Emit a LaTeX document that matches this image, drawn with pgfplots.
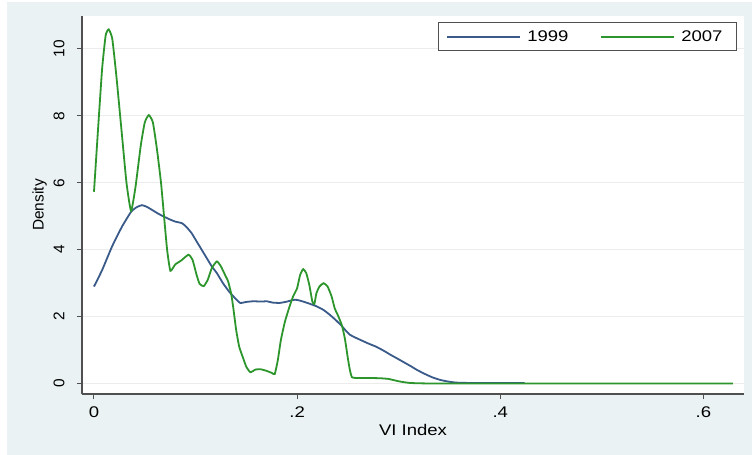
\documentclass[border=0pt]{standalone}
\usepackage{fontspec}
\setmainfont{Liberation Sans}[FakeStretch=1.2]
\newfontfamily\rotfont{Liberation Sans}
\usepackage{pgfplots}
\pgfplotsset{compat=1.18}
\usetikzlibrary{backgrounds,calc}
\definecolor{bgblue}{HTML}{EAF2F3}
\definecolor{c99}{HTML}{3A5A8A}
\definecolor{c07}{HTML}{2C962C}
\definecolor{axgray}{HTML}{505050}
\definecolor{gridgray}{HTML}{ECECEC}
\pgfplotstableread{
x y
0.000 2.9
0.008 3.39
0.0177 4.09
0.0276 4.69
0.0365 5.13
0.042 5.27
0.0473 5.33
0.052 5.28
0.0571 5.19
0.063 5.08
0.0687 4.99
0.075 4.9
0.080 4.84
0.0867 4.79
0.091 4.68
0.096 4.5
0.100 4.3
0.104 4.1
0.110 3.8
0.116 3.5
0.121 3.3
0.127 3.0
0.133 2.75
0.139 2.55
0.144 2.41
0.150 2.44
0.157 2.46
0.165 2.45
0.170 2.46
0.176 2.42
0.183 2.41
0.190 2.45
0.196 2.50
0.200 2.50
0.206 2.45
0.212 2.39
0.219 2.31
0.226 2.2
0.232 2.06
0.238 1.9
0.244 1.72
0.248 1.58
0.252 1.46
0.257 1.38
0.262 1.31
0.270 1.2
0.278 1.1
0.286 0.97
0.292 0.86
0.298 0.76
0.305 0.64
0.312 0.52
0.318 0.41
0.325 0.3
0.333 0.19
0.341 0.11
0.349 0.06
0.357 0.03
0.370 0.02
0.390 0.02
0.410 0.02
0.424 0.02
}\dataA
\pgfplotstableread{
x y
0.000 5.73
0.004 7.6
0.008 9.4
0.0115 10.4
0.0145 10.58
0.018 10.3
0.022 9.2
0.027 7.6
0.032 6.0
0.0365 5.16
0.041 5.9
0.046 7.1
0.050 7.8
0.054 8.02
0.058 7.8
0.062 7.0
0.066 6.0
0.069 4.99
0.072 4.0
0.0752 3.37
0.080 3.56
0.086 3.68
0.093 3.85
0.097 3.7
0.101 3.25
0.104 2.98
0.108 2.91
0.112 3.1
0.116 3.45
0.121 3.65
0.125 3.5
0.129 3.25
0.132 3.06
0.135 2.7
0.137 2.3
0.140 1.6
0.143 1.1
0.147 0.75
0.150 0.5
0.154 0.34
0.159 0.42
0.164 0.43
0.170 0.38
0.175 0.32
0.178 0.29
0.181 0.7
0.184 1.3
0.188 1.85
0.192 2.25
0.196 2.6
0.200 2.85
0.203 3.25
0.206 3.42
0.209 3.3
0.212 2.95
0.215 2.45
0.217 2.38
0.219 2.7
0.222 2.9
0.226 3.0
0.230 2.9
0.234 2.6
0.237 2.25
0.240 2.05
0.244 1.75
0.247 1.35
0.250 0.75
0.252 0.4
0.254 0.19
0.258 0.17
0.270 0.17
0.282 0.16
0.290 0.14
0.300 0.07
0.311 0.02
0.330 0.005
0.400 0.003
0.629 0.003
}\dataB
\begin{document}
\begin{tikzpicture}
\begin{axis}[
  scale only axis, width=662bp, height=378bp,
  xmin=-0.0118, xmax=0.640, ymin=-0.31, ymax=10.98,
  axis x line*=bottom, axis y line*=left,
  axis line style={axgray, line width=1.3bp, -},
  xtick={0,0.2,0.4,0.6}, xticklabels={0,.2,.4,.6},
  ytick={0,2,4,6,8,10}, yticklabels={0,2,4,6,8,10},
  tick align=outside, major tick length=5bp,
  tick style={axgray, line width=1bp},
  ymajorgrids, grid style={gridgray, line width=1.2bp},
  axis background/.style={fill=white},
  /pgf/number format/assume math mode=true,
  xticklabel style={font=\fontsize{15.5}{18}\selectfont, yshift=-4bp},
  yticklabel style={font=\fontsize{15.5}{18}\selectfont\rotfont, xshift=-9bp, rotate=90, anchor=south},
  xlabel={VI Index}, ylabel={Density},
  xlabel style={font=\fontsize{15.5}{18}\selectfont},
  ylabel style={font=\fontsize{15.5}{18}\selectfont\rotfont},
  legend columns=2,
  legend image code/.code={\draw[#1] (0bp,0bp) -- (73bp,0bp);},
  legend style={at={(0.9894,0.984)}, anchor=north east, draw=axgray, line width=0.9bp,
    fill=white, font=\fontsize{15.5}{18}\selectfont, inner xsep=8bp, inner ysep=4bp,
    nodes={inner xsep=6bp, inner ysep=4bp},
    /tikz/every even column/.append style={column sep=26bp}},
]
\addplot[c99, line width=1.8bp, smooth, tension=0.3] table[x=x,y=y] {\dataA};
\addlegendentry{1999}
\addplot[c07, line width=1.8bp, smooth, tension=0.3] table[x=x,y=y] {\dataB};
\addlegendentry{2007}
\coordinate (SW) at (rel axis cs:0,0);
\coordinate (NE) at (rel axis cs:1,1);
\end{axis}
\begin{scope}[on background layer]
\fill[white] ($(SW)+(-82bp,-61bp)$) rectangle ($(NE)+(8bp,16bp)$);
\fill[bgblue] ($(SW)+(-75bp,-61bp)$) rectangle ($(NE)+(8bp,14bp)$);
\end{scope}
\end{tikzpicture}
\end{document}
